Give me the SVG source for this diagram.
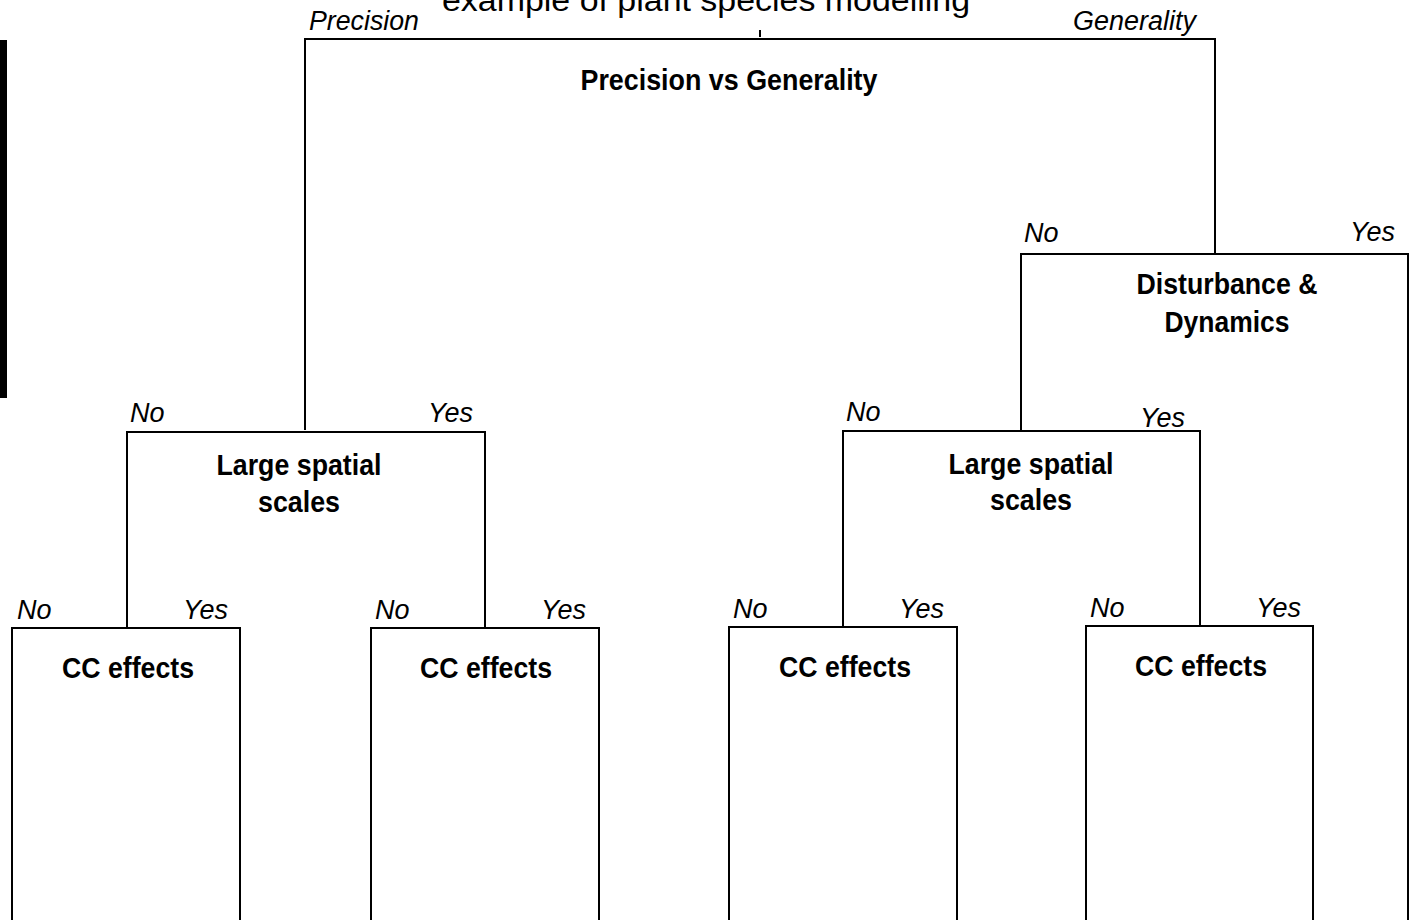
<svg xmlns="http://www.w3.org/2000/svg" width="1428" height="920" viewBox="0 0 1428 920">
<style>
.ln{fill:none;stroke:#000;stroke-width:2}
.b{font-family:"Liberation Sans",Arial,sans-serif;font-weight:bold;font-size:29px;text-anchor:middle;fill:#000}
.i{font-family:"Liberation Sans",Arial,sans-serif;font-style:italic;font-size:27px;fill:#000}
.t{font-family:"Liberation Sans",Arial,sans-serif;font-size:31px;text-anchor:middle;fill:#000}
</style>
<rect x="0" y="0" width="1428" height="920" fill="#fff"/>
<rect x="0" y="40" width="7" height="358" fill="#000"/>
<text class="t" x="706" y="11" textLength="528" lengthAdjust="spacingAndGlyphs">example of plant species modelling</text>
<line class="ln" x1="760" y1="30" x2="760" y2="37"/>
<g id="connectors">
<path class="ln" d="M305,430 V39 M1215,39 V254"/>
<path class="ln" d="M1021,430 V254 M1408,254 V920"/>
<path class="ln" d="M127,628 V432 M485,432 V628"/>
<path class="ln" d="M843,627 V431 M1200,431 V626"/>
<path class="ln" d="M12,628 V920 M240,628 V920"/>
<path class="ln" d="M371,628 V920 M599,628 V920"/>
<path class="ln" d="M729,627 V920 M957,627 V920"/>
<path class="ln" d="M1086,626 V920 M1313,626 V920"/>
</g>
<g id="node-precision-generality">
<line class="ln" x1="304" y1="39" x2="1216" y2="39"/>
<text class="i" x="309" y="30" textLength="110" lengthAdjust="spacingAndGlyphs">Precision</text>
<text class="i" x="1073" y="30" textLength="123" lengthAdjust="spacingAndGlyphs">Generality</text>
<text class="b" x="729" y="90" textLength="297" lengthAdjust="spacingAndGlyphs">Precision vs Generality</text>
</g>
<g id="node-disturbance">
<line class="ln" x1="1020" y1="254" x2="1409" y2="254"/>
<text class="i" x="1024" y="242">No</text>
<text class="i" x="1350" y="241">Yes</text>
<text class="b" x="1227" y="294" textLength="181" lengthAdjust="spacingAndGlyphs">Disturbance &amp;</text>
<text class="b" x="1227" y="332" textLength="125" lengthAdjust="spacingAndGlyphs">Dynamics</text>
</g>
<g id="node-large-spatial-left">
<line class="ln" x1="126" y1="432" x2="486" y2="432"/>
<text class="i" x="130" y="422">No</text>
<text class="i" x="428" y="422">Yes</text>
<text class="b" x="299" y="475" textLength="165" lengthAdjust="spacingAndGlyphs">Large spatial</text>
<text class="b" x="299" y="512" textLength="82" lengthAdjust="spacingAndGlyphs">scales</text>
</g>
<g id="node-large-spatial-right">
<line class="ln" x1="842" y1="431" x2="1201" y2="431"/>
<text class="i" x="846" y="421">No</text>
<text class="i" x="1140" y="427">Yes</text>
<text class="b" x="1031" y="474" textLength="165" lengthAdjust="spacingAndGlyphs">Large spatial</text>
<text class="b" x="1031" y="510" textLength="82" lengthAdjust="spacingAndGlyphs">scales</text>
</g>
<g id="node-cc-1">
<line class="ln" x1="11" y1="628" x2="241" y2="628"/>
<text class="i" x="17" y="619">No</text>
<text class="i" x="183" y="619">Yes</text>
<text class="b" x="128" y="678" textLength="132" lengthAdjust="spacingAndGlyphs">CC effects</text>
</g>
<g id="node-cc-2">
<line class="ln" x1="370" y1="628" x2="600" y2="628"/>
<text class="i" x="375" y="619">No</text>
<text class="i" x="541" y="619">Yes</text>
<text class="b" x="486" y="678" textLength="132" lengthAdjust="spacingAndGlyphs">CC effects</text>
</g>
<g id="node-cc-3">
<line class="ln" x1="728" y1="627" x2="958" y2="627"/>
<text class="i" x="733" y="618">No</text>
<text class="i" x="899" y="618">Yes</text>
<text class="b" x="845" y="677" textLength="132" lengthAdjust="spacingAndGlyphs">CC effects</text>
</g>
<g id="node-cc-4">
<line class="ln" x1="1085" y1="626" x2="1314" y2="626"/>
<text class="i" x="1090" y="617">No</text>
<text class="i" x="1256" y="617">Yes</text>
<text class="b" x="1201" y="676" textLength="132" lengthAdjust="spacingAndGlyphs">CC effects</text>
</g>
</svg>
